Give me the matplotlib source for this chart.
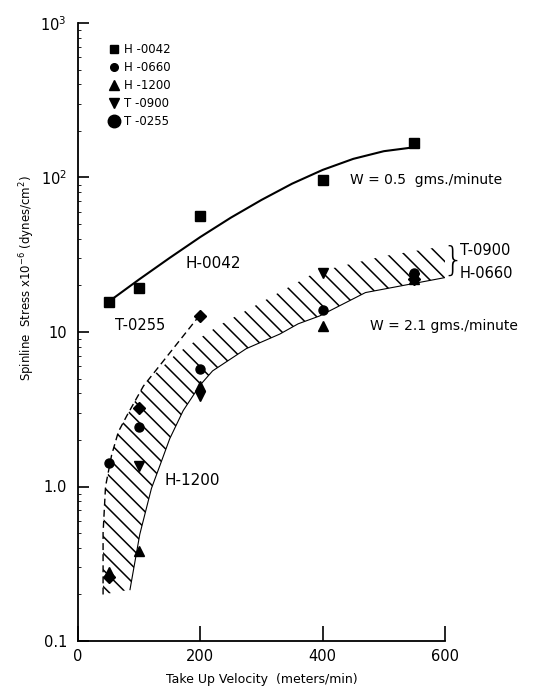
import numpy as np
import matplotlib
matplotlib.use("Agg")
import matplotlib.pyplot as plt
from matplotlib.lines import Line2D
from matplotlib.ticker import FixedLocator, LogLocator, NullFormatter

plt.rcParams["font.family"] = ["DejaVu Sans"]
plt.rcParams["mathtext.default"] = "regular"
plt.rcParams["hatch.linewidth"] = 1.1

# measured points (take up velocity m/min, spinline stress x1e-6)
h0042_x = [50, 100, 200, 400, 550]
h0042_y = [15.7, 19.2, 56, 97, 166]
h0660_x = [50, 100, 200, 400, 550]
h0660_y = [1.43, 2.43, 5.77, 13.9, 24]
h1200_x = [50, 100, 200, 400, 550]
h1200_y = [0.28, 0.38, 4.5, 11.0, 22]
t0900_x = [100, 200, 400, 550]
t0900_y = [1.36, 3.87, 24, 22.5]
t0255_x = [50, 100, 200, 550]
t0255_y = [0.26, 3.22, 12.7, 22]

# fitted curve for H-0042 (W = 0.5 gms/min)
curve_x = [50, 100, 150, 200, 250, 300, 350, 400, 450, 500, 550]
curve_y = [15.7, 21.9, 30.2, 41.2, 55.0, 71.6, 91.2, 112, 132, 148, 157]

# hatched band (W = 2.1 gms/min)
band_top_x = [41, 41, 45, 55, 66, 80, 107, 118, 160, 230, 300, 379, 400, 500, 600]
band_top_y = [0.20, 0.5, 1.0, 1.6, 2.26, 2.88, 4.47, 5.0, 7.2, 11, 15.6, 23.2, 25, 31, 36]
band_bot_x = [600, 470, 395, 360, 330, 275, 220, 199, 172, 150, 134, 120, 101, 85]
band_bot_y = [22.5, 18, 12.7, 11.3, 9.7, 7.8, 5.6, 4.5, 3.1, 2.04, 1.37, 0.97, 0.49, 0.215]

# dashed T-0255 edge
dash_x = [41, 41, 45, 55, 66, 80, 107, 198]
dash_y = [0.20, 0.5, 1.0, 1.6, 2.26, 2.88, 4.47, 12.7]

fig = plt.figure(figsize=(5.35, 6.92), dpi=100)
ax = fig.add_axes([78 / 535, 51 / 692, 367 / 535, 618 / 692])
ax.set_yscale("log")
ax.set_xlim(0, 600)
ax.set_ylim(0.1, 1000)

# band
poly_x = band_top_x + band_bot_x
poly_y = band_top_y + band_bot_y
ax.fill(poly_x, poly_y, facecolor="none", edgecolor="black", linewidth=0,
        hatch="\\\\", zorder=1)
ax.plot(band_bot_x, band_bot_y, color="black", lw=0.8, zorder=2)
ax.plot(dash_x, dash_y, color="black", lw=1.0, ls=(0, (5, 3)), zorder=2)

ax.plot(curve_x, curve_y, color="black", lw=1.5, zorder=2)

ms = dict(color="black", ls="none", zorder=3)
ax.plot(h0042_x, h0042_y, marker="s", ms=7, **ms)
ax.plot(h0660_x, h0660_y, marker="o", ms=6.5, **ms)
ax.plot(h1200_x, h1200_y, marker="^", ms=7, **ms)
ax.plot(t0900_x, t0900_y, marker="v", ms=7, **ms)
ax.plot(t0255_x, t0255_y, marker="D", ms=6, **ms)

# legend
handles = [
    Line2D([], [], marker="s", ms=6, color="black", ls="none"),
    Line2D([], [], marker="o", ms=5.5, color="black", ls="none"),
    Line2D([], [], marker="^", ms=7, color="black", ls="none"),
    Line2D([], [], marker="v", ms=7, color="black", ls="none"),
    Line2D([], [], marker="o", ms=9, color="black", ls="none"),
]
labels = ["H -0042", "H -0660", "H -1200", "T -0900", "T -0255"]
ax.legend(handles, labels, loc="upper left", bbox_to_anchor=(0.072, 0.975),
          frameon=False, fontsize=8.5, handlelength=0.8, handletextpad=0.5,
          labelspacing=0.42, borderaxespad=0)

# annotations
ax.text(445, 97, "W = 0.5  gms./minute", fontsize=10, va="center", ha="left")
ax.text(175, 27.9, "H-0042", fontsize=11, va="center", ha="left")
ax.text(60, 11.0, "T-0255", fontsize=10.5, va="center", ha="left")
ax.text(477, 11.0, "W = 2.1 gms./minute", fontsize=10, va="center", ha="left")
ax.text(142, 1.1, "H-1200", fontsize=11, va="center", ha="left")
ax.text(596, 28.5, "}", fontsize=24, va="center", ha="left", fontweight="light")
ax.text(624, 33.5, "T-0900", fontsize=10.5, va="center", ha="left")
ax.text(624, 24.0, "H-0660", fontsize=10.5, va="center", ha="left")

# axes styling
ax.spines["top"].set_visible(False)
ax.spines["right"].set_visible(False)
ax.spines["left"].set_linewidth(1.3)
ax.spines["bottom"].set_linewidth(1.3)
ax.set_xticks([0, 200, 400, 600])
ax.yaxis.set_major_locator(FixedLocator([0.1, 1, 10, 100, 1000]))
ax.set_yticklabels(["0.1", "1.0", "10", "10$^2$", "10$^3$"])
ax.yaxis.set_minor_locator(LogLocator(base=10, subs=np.arange(2, 10)))
ax.yaxis.set_minor_formatter(NullFormatter())
ax.tick_params(axis="x", direction="in", length=11, width=1.2, labelsize=10.5, pad=6)
ax.tick_params(axis="y", which="major", direction="in", length=8, width=1.2, labelsize=10.5, pad=8)
ax.tick_params(axis="y", which="minor", direction="in", length=2, width=0.6)

ax.set_xlabel("Take Up Velocity  (meters/min)", fontsize=9, labelpad=6)
fig.text(27 / 535, 1 - 278 / 692, "Spinline  Stress x10$^{-6}$ (dynes/cm$^2$)",
         rotation=90, fontsize=8.5, ha="center", va="center")

fig.savefig("out.png", dpi=100)
